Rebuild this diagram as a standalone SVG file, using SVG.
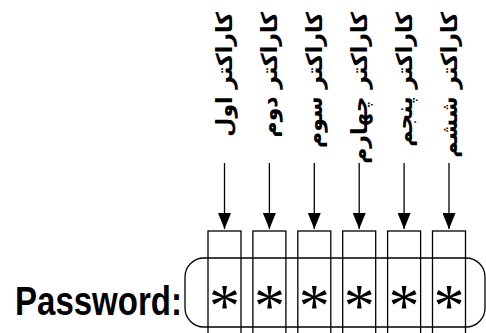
<svg xmlns="http://www.w3.org/2000/svg" width="486" height="333" viewBox="0 0 486 333">
<style>
.box{fill:none;stroke:#000;stroke-width:1.3}
.field{fill:none;stroke:#000;stroke-width:1.3}
.lbl{font-family:"DejaVu Sans",sans-serif;font-weight:bold;font-size:22px;fill:#000;text-anchor:end}
.star{font-family:"Liberation Serif",serif;font-size:62px;fill:#000;text-anchor:middle}
.pw{font-family:"Liberation Sans",Arial,sans-serif;font-weight:bold;font-size:40px;fill:#000}
.conn line{stroke:#000;stroke-width:1.3}
</style>
<defs>
<marker id="ah" markerWidth="16" markerHeight="13" refX="16" refY="6.5" orient="auto" markerUnits="userSpaceOnUse" viewBox="0 0 16 13">
<path d="M0,0 L16,6.5 L0,13 Z" fill="#000"/>
</marker>
</defs>
<g id="password-label"><text class="pw" x="15" y="315" textLength="167" lengthAdjust="spacingAndGlyphs">Password:</text></g>
<g id="field"><rect class="field" x="185" y="258" width="300" height="69" rx="19" ry="19"/></g>
<g id="char1"><rect class="box" x="208" y="231" width="33" height="110"/><text class="star" x="224.5" y="326">*</text></g>
<g id="char2"><rect class="box" x="252.9" y="231" width="33" height="110"/><text class="star" x="269.4" y="326">*</text></g>
<g id="char3"><rect class="box" x="297.8" y="231" width="33" height="110"/><text class="star" x="314.3" y="326">*</text></g>
<g id="char4"><rect class="box" x="342.7" y="231" width="33" height="110"/><text class="star" x="359.2" y="326">*</text></g>
<g id="char5"><rect class="box" x="387.6" y="231" width="33" height="110"/><text class="star" x="404.1" y="326">*</text></g>
<g id="char6"><rect class="box" x="432.5" y="231" width="33" height="110"/><text class="star" x="449" y="326">*</text></g>
<g id="label1"><text class="lbl" transform="translate(232,12) rotate(-90)">کاراکتر اول</text></g>
<g id="label2"><text class="lbl" transform="translate(276.9,12) rotate(-90)">کاراکتر دوم</text></g>
<g id="label3"><text class="lbl" transform="translate(321.8,12) rotate(-90)">کاراکتر سوم</text></g>
<g id="label4"><text class="lbl" transform="translate(366.7,12) rotate(-90)">کاراکتر چهارم</text></g>
<g id="label5"><text class="lbl" transform="translate(411.6,12) rotate(-90)">کاراکتر پنجم</text></g>
<g id="label6"><text class="lbl" transform="translate(456.5,12) rotate(-90)">کاراکتر ششم</text></g>
<g id="connectors" class="conn">
<line x1="224.5" y1="163" x2="224.5" y2="229" marker-end="url(#ah)"/>
<line x1="269.4" y1="163" x2="269.4" y2="229" marker-end="url(#ah)"/>
<line x1="314.3" y1="163" x2="314.3" y2="229" marker-end="url(#ah)"/>
<line x1="359.2" y1="163" x2="359.2" y2="229" marker-end="url(#ah)"/>
<line x1="404.1" y1="163" x2="404.1" y2="229" marker-end="url(#ah)"/>
<line x1="449" y1="163" x2="449" y2="229" marker-end="url(#ah)"/>
</g>
</svg>
